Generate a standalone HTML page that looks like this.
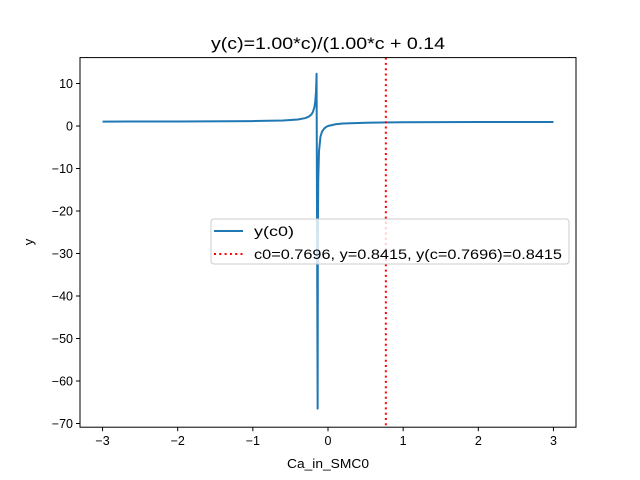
<!DOCTYPE html>
<html><head><meta charset="utf-8"><style>
body{margin:0;background:#fff}
svg{display:block;font-family:"Liberation Sans","DejaVu Sans",sans-serif}
</style></head><body>
<svg id="chart" width="640" height="480">
<rect width="640" height="480" fill="#fff"/>
<text x="328" y="49" text-anchor="middle" font-size="17" textLength="234" lengthAdjust="spacingAndGlyphs">y(c)=1.00*c)/(1.00*c + 0.14</text>
<g id="plot"></g>
<rect x="80" y="57.6" width="496" height="369.6" fill="none" stroke="#000" stroke-width="1"/>
<text x="328" y="468" text-anchor="middle" font-size="13" textLength="82" lengthAdjust="spacingAndGlyphs">Ca_in_SMC0</text>
<text x="0" y="0" transform="translate(33,242) rotate(-90)" text-anchor="middle" font-size="13">y</text>
<g>
<rect x="211" y="219" width="358" height="45" rx="3" fill="#fff" fill-opacity="0.8" stroke="#ccc"/>
<line x1="214" y1="231" x2="243" y2="231" stroke="#1f77b4" stroke-width="2"/>
<text x="254" y="236" font-size="14" textLength="40" lengthAdjust="spacingAndGlyphs">y(c0)</text>
<line x1="214" y1="254" x2="243" y2="254" stroke="red" stroke-width="2" stroke-dasharray="2,3.3"/>
<text x="254" y="259" font-size="14" textLength="308" lengthAdjust="spacingAndGlyphs">c0=0.7696, y=0.8415, y(c=0.7696)=0.8415</text>
</g>
</svg>
<script>
const xs=[-3,-2,-1,-0.6,-0.4,-0.3,-0.25,-0.22,-0.2,-0.18,-0.17,-0.16,-0.155,-0.1522,-0.1379,-0.135,-0.13,-0.12,-0.1,-0.08,-0.05,-0.02,0,0.1,0.2,0.5,1,2,3];
const ys=[1.049,1.075,1.163,1.304,1.538,1.875,2.273,2.75,3.333,4.5,5.667,8,10.33,12.3,-66.5,-27,-13,-6,-2.5,-1.333,-0.556,-0.167,0,0.417,0.588,0.781,0.877,0.935,0.955];
const xTicks=[-3,-2,-1,0,1,2,3];
const yTicks=[10,0,-10,-20,-30,-40,-50,-60,-70];
const c0=[0.7696];
const X0=80,X1=576,Y0=57.6,Y1=427.2,xmin=-3.3,xmax=3.3,ymin=-70.87,ymax=16.1;
const sx=v=>X0+(v-xmin)/(xmax-xmin)*(X1-X0);
const sy=v=>Y1-(v-ymin)/(ymax-ymin)*(Y1-Y0);
const NS="http://www.w3.org/2000/svg",g=document.getElementById('plot');
function mk(t,a){const e=document.createElementNS(NS,t);for(const k in a)e.setAttribute(k,a[k]);g.appendChild(e);return e;}
const p=mk('polyline',{points:xs.map((x,i)=>sx(x)+','+sy(ys[i])).join(' '),fill:'none',stroke:'#1f77b4','stroke-width':2,'stroke-linejoin':'round'});


c0.forEach(c=>{const l=mk('line',{x1:sx(c),x2:sx(c),y1:Y0,y2:Y1,stroke:'red','stroke-width':2,'stroke-dasharray':'2,3.3'});

});
xTicks.forEach(t=>{const x=sx(t);const l=mk('line',{x1:x,x2:x,y1:Y1,y2:Y1+4,stroke:'#000'});


const s=mk('text',{x:x,y:Y1+18,'text-anchor':'middle','font-size':12.5});s.textContent=(t<0?'\u2212'+(-t):t);

});
yTicks.forEach(t=>{const y=sy(t);const l=mk('line',{x1:X0-4,x2:X0,y1:y,y2:y,stroke:'#000'});


const s=mk('text',{x:X0-7,y:y+4.5,'text-anchor':'end','font-size':12.5});s.textContent=(t<0?'\u2212'+(-t):t);

});
</script>
</body></html>
